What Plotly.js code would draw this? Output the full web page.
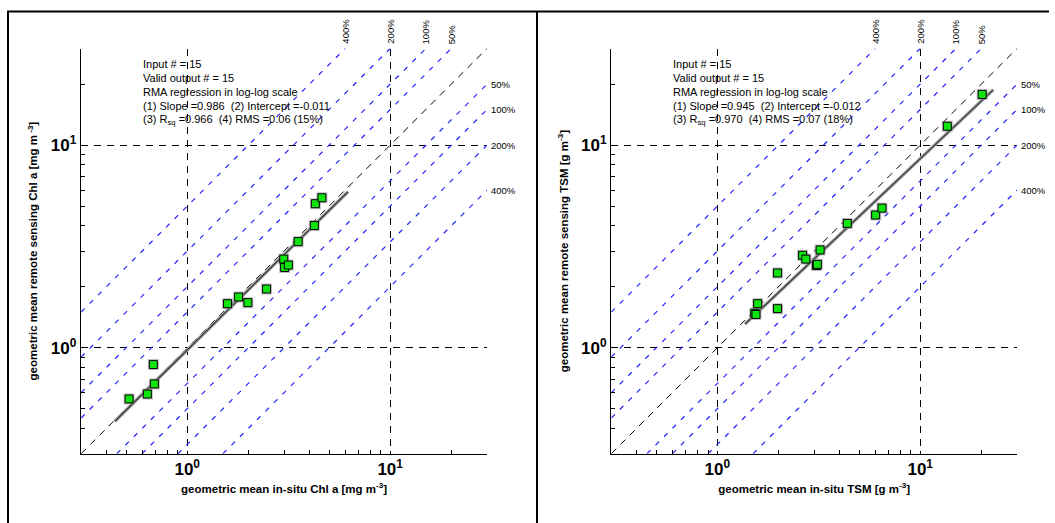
<!DOCTYPE html>
<html>
<head>
<meta charset="utf-8">
<script src="https://cdn.plot.ly/plotly-3.0.1.min.js"></script>
<style>html,body{margin:0;padding:0;background:#fff;}#plot{width:1055px;height:523px;}</style>
</head>
<body>
<div id="plot"></div>
<script>
// ---- data ----
const chlX = [0.517, 0.636, 0.681, 0.689, 1.58, 1.79, 1.99, 2.46, 2.99, 3.02, 3.15, 3.52, 4.23, 4.28, 4.61];
const chlY = [0.559, 0.591, 0.826, 0.663, 1.65, 1.78, 1.67, 1.95, 2.74, 2.49, 2.56, 3.34, 4.01, 5.14, 5.50];
const tsmX = [1.53, 1.55, 1.58, 1.98, 1.98, 2.63, 2.73, 3.08, 3.11, 3.21, 4.37, 6.03, 6.48, 13.6, 20.2];
const tsmY = [1.48, 1.46, 1.65, 2.34, 1.56, 2.86, 2.74, 2.55, 2.58, 3.04, 4.11, 4.52, 4.89, 12.4, 17.8];
const chlFit = {slope: 0.986, intercept: -0.011, rsq: 0.966, rms: 0.06, rmsPct: 15, n: 15};
const tsmFit = {slope: 0.945, intercept: -0.012, rsq: 0.970, rms: 0.07, rmsPct: 18, n: 15};
const chlFitRange = [0.44, 6.2];
const tsmFitRange = [1.37, 22.9];
const axisRange = [0.3, 30];
const pctRatios = [1.5, 2, 3, 5];
const pctLabels = ['50%', '100%', '200%', '400%'];
const majorTicks = [1, 10];
const majorTickText = ['<b>10<sup>0</sup></b>', '<b>10<sup>1</sup></b>'];
const minorTicks = [0.3, 0.4, 0.5, 0.6, 0.7, 0.8, 0.9, 2, 3, 4, 5, 6, 7, 8, 9, 20, 30];
const chlXTitle = 'geometric mean in-situ Chl a [mg m<sup>-3</sup>]';
const chlYTitle = 'geometric mean remote sensing Chl a [mg m<sup> -3</sup>]';
const tsmXTitle = 'geometric mean in-situ TSM [g m<sup>-3</sup>]';
const tsmYTitle = 'geometric mean remote sensing TSM [g m<sup>-3</sup>]';

// ---- build ----
const FONT = 'Liberation Sans, Arial, Helvetica, sans-serif';
const lo = axisRange[0], hi = axisRange[1];
const traces = [];
const annotations = [];

function panel(xs, ys, fit, fitRange, xa, ya, xTextPaper, rightLabelPaper) {
  pctRatios.forEach(r => {
    traces.push({x: [lo, hi / r], y: [lo * r, hi], xaxis: xa, yaxis: ya, mode: 'lines',
      line: {color: '#2424ff', width: 1.2, dash: '5px,7px'}, hoverinfo: 'skip', showlegend: false});
    traces.push({x: [lo * r, hi], y: [lo, hi / r], xaxis: xa, yaxis: ya, mode: 'lines',
      line: {color: '#2424ff', width: 1.2, dash: '5px,7px'}, hoverinfo: 'skip', showlegend: false});
  });
  traces.push({x: [lo, hi], y: [lo, hi], xaxis: xa, yaxis: ya, mode: 'lines',
    line: {color: '#000', width: 1, dash: '7px,6px'}, hoverinfo: 'skip', showlegend: false});
  const fx = fitRange;
  const fy = fx.map(v => Math.pow(10, fit.slope * Math.log10(v) + fit.intercept));
  traces.push({x: fx, y: fy, xaxis: xa, yaxis: ya, mode: 'lines',
    line: {color: '#a8a8a8', width: 3.5}, hoverinfo: 'skip', showlegend: false});
  traces.push({x: fx, y: fy, xaxis: xa, yaxis: ya, mode: 'lines',
    line: {color: '#3a3a3a', width: 1.3}, hoverinfo: 'skip', showlegend: false});
  traces.push({x: xs, y: ys, xaxis: xa, yaxis: ya, mode: 'markers',
    marker: {symbol: 'square', size: 11, color: 'rgba(140,140,140,0.55)'}, hoverinfo: 'skip', showlegend: false});
  traces.push({x: xs, y: ys, xaxis: xa, yaxis: ya, mode: 'markers',
    marker: {symbol: 'square', size: 8, color: '#0fe40f', line: {color: '#000', width: 1}}, showlegend: false});

  const lines = [
    'Input # = ' + fit.n,
    'Valid output # = ' + fit.n,
    'RMA regression in log-log scale',
    '(1) Slope =' + fit.slope.toFixed(3) + '\u00a0\u00a0(2) Intercept =' + fit.intercept.toFixed(3),
    '(3) R<sub>sq</sub> =' + fit.rsq.toFixed(3) + '\u00a0\u00a0(4) RMS =' + fit.rms.toFixed(2) + ' (' + fit.rmsPct + '%)'
  ];
  const yc = [63.5, 77.6, 91.8, 105.8, 120.5];
  lines.forEach((t, i) => {
    annotations.push({text: t, xref: 'paper', yref: 'paper', x: xTextPaper, y: 1 - yc[i] / 523,
      xanchor: 'left', yanchor: 'middle', showarrow: false, font: {family: FONT, size: 11, color: '#000'}});
  });
  pctRatios.forEach((r, i) => {
    annotations.push({text: pctLabels[i], xref: xa, yref: 'paper', x: Math.log10(hi / r), y: 1 - 46 / 523,
      xanchor: 'center', yanchor: 'bottom', textangle: -90, showarrow: false,
      font: {family: FONT, size: 9.5, color: '#000'}});
    annotations.push({text: pctLabels[i], xref: 'paper', yref: ya, x: rightLabelPaper, y: Math.log10(hi / r),
      xanchor: 'left', yanchor: 'middle', showarrow: false,
      font: {family: FONT, size: 9.5, color: '#000'}});
  });
}

panel(chlX, chlY, chlFit, chlFitRange, 'x', 'y', 141 / 1055, 489 / 1055);
panel(tsmX, tsmY, tsmFit, tsmFitRange, 'x2', 'y2', 671 / 1055, 1019 / 1055);

function axisBase(titleText, domain, anchor, isY) {
  return {
    type: 'log', range: [Math.log10(lo), Math.log10(hi)], domain: domain, anchor: anchor,
    tickvals: majorTicks, ticktext: majorTickText, ticks: 'inside', ticklen: 3, tickcolor: '#000',
    tickfont: {family: FONT, size: 17, color: '#000'},
    showline: true, linecolor: '#000', linewidth: 1.3, mirror: false, zeroline: false,
    showgrid: true, gridcolor: '#000', gridwidth: 1, griddash: '7px,6px',
    minor: {tickvals: minorTicks, ticks: 'inside', ticklen: 4, tickcolor: '#000', showgrid: false},
    title: {text: '<b>' + titleText + '</b>', font: {family: FONT, size: 11.5, color: '#000'}, standoff: isY ? 10 : 6},
    fixedrange: true
  };
}

const yDom = [1 - 453.7 / 523, 1 - 48.5 / 523];
const layout = {
  width: 1055, height: 523, margin: {l: 0, r: 0, t: 0, b: 0},
  paper_bgcolor: '#fff', plot_bgcolor: 'rgba(0,0,0,0)', showlegend: false,
  xaxis: axisBase(chlXTitle, [81.1 / 1055, 487 / 1055], 'y', false),
  yaxis: axisBase(chlYTitle, yDom, 'x', true),
  xaxis2: axisBase(tsmXTitle, [611.3 / 1055, 1017 / 1055], 'y2', false),
  yaxis2: axisBase(tsmYTitle, yDom, 'x2', true),
  annotations: annotations,
  shapes: [
    {type: 'line', xref: 'paper', yref: 'paper', x0: 7 / 1055, x1: 1049 / 1055, y0: 1 - 11.5 / 523, y1: 1 - 11.5 / 523, line: {color: '#000', width: 2}},
    {type: 'line', xref: 'paper', yref: 'paper', x0: 8 / 1055, x1: 8 / 1055, y0: 0, y1: 1 - 11.5 / 523, line: {color: '#000', width: 2}},
    {type: 'line', xref: 'paper', yref: 'paper', x0: 537 / 1055, x1: 537 / 1055, y0: 0, y1: 1 - 11.5 / 523, line: {color: '#000', width: 2}}
  ]
};

Plotly.newPlot('plot', traces, layout, {staticPlot: true, displayModeBar: false});
</script>
</body>
</html>
